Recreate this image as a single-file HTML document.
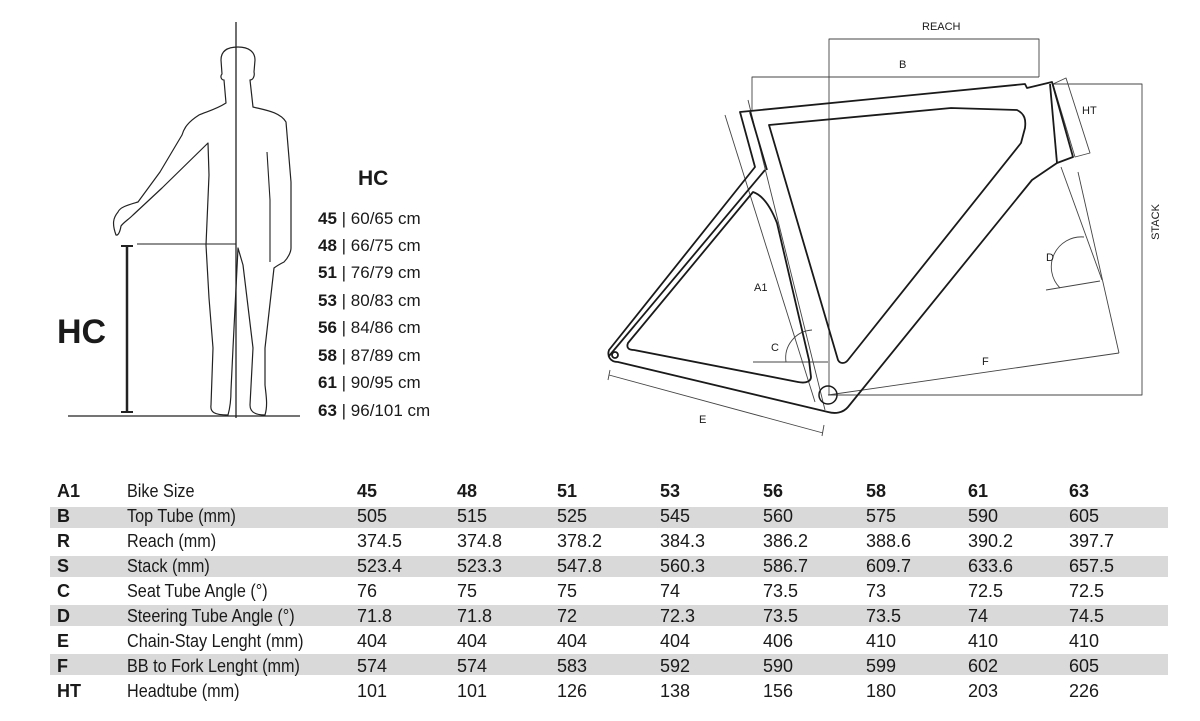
<!DOCTYPE html>
<html><head><meta charset="utf-8"><style>
html,body{margin:0;padding:0;background:#fff;}
#c{position:relative;width:1200px;height:721px;overflow:hidden;font-family:"Liberation Sans Narrow","Liberation Sans",sans-serif;color:#1a1a1a;}
.t{position:absolute;font-size:18px;line-height:22px;white-space:nowrap;}
.b{font-weight:bold;}
.n{transform:scaleX(0.9);transform-origin:0 0;}
.band{position:absolute;left:50px;width:1118px;height:21px;background:#d9d9d9;}
svg{position:absolute;left:0;top:0;}
</style></head><body><div id="c">
<div class="band" style="top:507px"></div>
<div class="band" style="top:556px"></div>
<div class="band" style="top:605px"></div>
<div class="band" style="top:654px"></div>

<svg width="1200" height="721" viewBox="0 0 1200 721" fill="none" stroke="#222" stroke-linejoin="round">
<line x1="236" y1="22" x2="236" y2="418" stroke-width="1.3"/>
<line x1="68" y1="416" x2="300" y2="416" stroke-width="1.3"/>
<line x1="127" y1="246" x2="127" y2="412" stroke-width="2.5"/>
<line x1="121" y1="246" x2="133" y2="246" stroke-width="2"/>
<line x1="121" y1="412" x2="133" y2="412" stroke-width="2"/>
<line x1="137" y1="244" x2="236" y2="244" stroke-width="1"/>
<path stroke-width="1.2" d="M238,47 C226,47 221,52 221,60 L222,74 C220,76 221,80 224,80 L226,103 C215,110 205,112 199,115 C188,122 184,128 182,135 L160,172 L138,202 C128,205 120,207 118,212 C113,218 112,224 116,235 C118,236 120,232 121,226 C124,222 128,220 133,215 L162,188 L208,143 L209,175 L206,245 L209,298 L213,348 L211,405 C210,412 214,415 228,415 C230,408 231,400 231,390 L233,348 L238,248 L243,265 L253,348 L250,405 C250,412 255,415 265,415 C268,405 266,395 265,385 L265,348 L274,268 C278,265 282,263 284,262 C288,258 291,252 291,248 L291,182 L286,122 C280,112 265,110 253,107 L250,80 C253,80 255,76 254,72 L255,60 C255,52 249,47 238,47 Z"/>
<path stroke-width="1.1" d="M267,152 L270,200 L270,262"/>
<g stroke-width="0.9" stroke="#444">
<polyline points="829,395 829,39 1039,39 1039,77"/>
<polyline points="752,110 752,77 1039,77"/>
<polyline points="1053,84 1142,84 1142,395 828,395"/>
<polygon points="1053,84 1066,78 1090,153 1075,157"/>
<line x1="725" y1="115" x2="815" y2="402"/>
<line x1="748" y1="100" x2="825" y2="410"/>
<line x1="753" y1="362" x2="828" y2="362"/>
<path d="M786,362 A28,28 0 0 1 812,330"/>
<line x1="1061" y1="167" x2="1102" y2="280"/>
<line x1="1078" y1="172" x2="1119" y2="353"/>
<line x1="1046" y1="290" x2="1100" y2="281"/>
<path d="M1060,288 A30,30 0 0 1 1084,237"/>
<line x1="828" y1="395" x2="1119" y2="353"/>
<line x1="609" y1="375" x2="823" y2="433"/>
<line x1="610" y1="370" x2="608" y2="380"/>
<line x1="824" y1="425" x2="822" y2="436"/>
</g>
<g stroke-width="1.8" stroke="#1a1a1a">
<path d="M740,112 L1025,84 L1027,88 L1052,82 L1073,157 L1057,163 L1032,180 L848,407 C843,413 835,414 828,412 L618,362 C610,362 607,356 609,350 L755,167 L740,112 Z"/>
<path d="M769,125 L951,108 L1017,110 C1025,114 1026,120 1025,128 L1021,143 L848,360 C845,364 840,364 838,360 L769,125 Z"/>
<path d="M753,192 L628,343 C626,348 629,350 634,350 L798,382 C808,384 811,380 811,377 L809,360 L777,223 C770,205 762,195 753,192 Z"/>
<line x1="765" y1="170" x2="609" y2="356"/>
<line x1="750" y1="112" x2="767" y2="170"/>
<line x1="1057" y1="163" x2="1050" y2="84"/>
<circle cx="615" cy="355" r="3"/>
<circle cx="828" cy="395" r="9" stroke-width="1.5"/>
</g>
</svg>

<div class="t b" style="left:57px;top:312px;font-size:34px;line-height:40px">HC</div>
<div class="t b" style="left:358px;top:168px;font-size:21px">HC</div>
<div class="t" style="left:318px;top:208px;font-size:17px"><b>45</b> | 60/65 cm</div>
<div class="t" style="left:318px;top:235px;font-size:17px"><b>48</b> | 66/75 cm</div>
<div class="t" style="left:318px;top:262px;font-size:17px"><b>51</b> | 76/79 cm</div>
<div class="t" style="left:318px;top:290px;font-size:17px"><b>53</b> | 80/83 cm</div>
<div class="t" style="left:318px;top:317px;font-size:17px"><b>56</b> | 84/86 cm</div>
<div class="t" style="left:318px;top:345px;font-size:17px"><b>58</b> | 87/89 cm</div>
<div class="t" style="left:318px;top:372px;font-size:17px"><b>61</b> | 90/95 cm</div>
<div class="t" style="left:318px;top:400px;font-size:17px"><b>63</b> | 96/101 cm</div>

<div class="t" style="left:922px;top:20px;font-size:11px;line-height:14px">REACH</div>
<div class="t" style="left:899px;top:58px;font-size:11px;line-height:14px">B</div>
<div class="t" style="left:1082px;top:104px;font-size:11px;line-height:14px">HT</div>
<div class="t" style="left:1138px;top:215px;font-size:11px;line-height:14px;transform:rotate(-90deg)">STACK</div>
<div class="t" style="left:1046px;top:251px;font-size:11px;line-height:14px">D</div>
<div class="t" style="left:754px;top:281px;font-size:11px;line-height:14px">A1</div>
<div class="t" style="left:771px;top:341px;font-size:11px;line-height:14px">C</div>
<div class="t" style="left:982px;top:355px;font-size:11px;line-height:14px">F</div>
<div class="t" style="left:699px;top:413px;font-size:11px;line-height:14px">E</div>

<div id="tbl"></div>
<script>
var rows=[["A1","Bike Size","45","48","51","53","56","58","61","63"],
["B","Top Tube (mm)","505","515","525","545","560","575","590","605"],
["R","Reach (mm)","374.5","374.8","378.2","384.3","386.2","388.6","390.2","397.7"],
["S","Stack (mm)","523.4","523.3","547.8","560.3","586.7","609.7","633.6","657.5"],
["C","Seat Tube Angle (°)","76","75","75","74","73.5","73","72.5","72.5"],
["D","Steering Tube Angle (°)","71.8","71.8","72","72.3","73.5","73.5","74","74.5"],
["E","Chain-Stay Lenght (mm)","404","404","404","404","406","410","410","410"],
["F","BB to Fork Lenght (mm)","574","574","583","592","590","599","602","605"],
["HT","Headtube (mm)","101","101","126","138","156","180","203","226"]];
var xs=[57,127,357,457,557,660,763,866,968,1069];
var h="";
for(var i=0;i<rows.length;i++){var y=480+i*25;
for(var j=0;j<10;j++){var b=(j==0||i==0&&j>1)?" b":"";if(j==1)b+=" n";
h+='<div class="t'+b+'" style="left:'+xs[j]+'px;top:'+y+'px">'+rows[i][j]+'</div>';}}
document.getElementById("tbl").innerHTML=h;
</script>
</div></body></html>
